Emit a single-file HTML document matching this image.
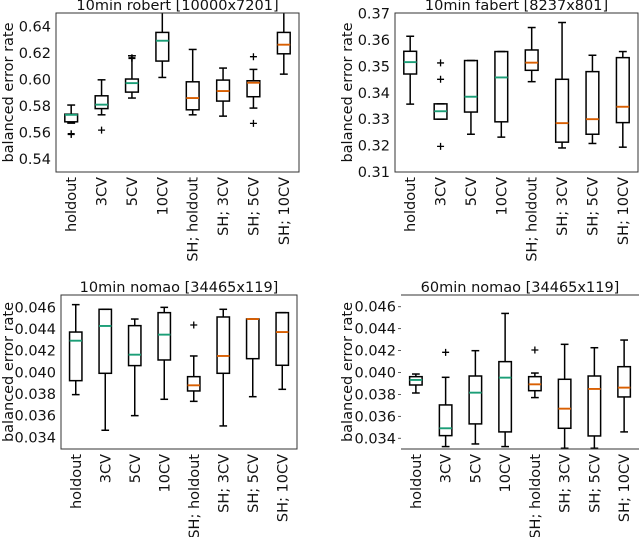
<!DOCTYPE html>
<html><head><meta charset="utf-8"><style>
body{margin:0;background:#fff;}
svg{display:block;font-family:"DejaVu Sans","Liberation Sans",sans-serif;}
</style></head><body>
<svg id="chart" width="640" height="537" viewBox="0 0 640 537"></svg>
<script>
const categories=["holdout","3CV","5CV","10CV","SH; holdout","SH; 3CV","SH; 5CV","SH; 10CV"];
const titles=["10min robert [10000x7201]","10min fabert [8237x801]","10min nomao [34465x119]","60min nomao [34465x119]"];
// each box: [lowWhisker, Q1, median, Q3, highWhisker]
const robertBoxes=[[0.567,0.568,0.5733,0.5738,0.5807],[0.5733,0.578,0.581,0.5877,0.5998],[0.586,0.5905,0.5973,0.6004,0.618],[0.6016,0.614,0.6294,0.6357,0.652],[0.5733,0.5771,0.586,0.5983,0.6228],[0.5723,0.5837,0.5913,0.5996,0.6087],[0.5784,0.587,0.5976,0.5991,0.6077],[0.6041,0.6195,0.6264,0.6357,0.652]];
const robertOutliers=[[0.5584,0.559],[0.5617],[0.616,0.6165],[],[],[],[0.6173,0.5668],[]];
const fabertBoxes=[[0.3357,0.3471,0.3516,0.3557,0.3614],[0.33,0.33,0.333,0.3358,0.3358],[0.3243,0.3327,0.3385,0.3522,0.3522],[0.3232,0.329,0.3458,0.3556,0.3556],[0.3442,0.3485,0.3514,0.3562,0.3647],[0.3191,0.3213,0.3285,0.3451,0.3666],[0.3208,0.3243,0.33,0.348,0.3542],[0.3194,0.3287,0.3347,0.3533,0.3556]];
const fabertOutliers=[[],[0.3513,0.3451,0.3197],[],[],[],[],[],[]];
const nomao10Boxes=[[0.03794,0.03923,0.04292,0.04372,0.04625],[0.03465,0.03991,0.04428,0.04582,0.04582],[0.036,0.04062,0.04163,0.04431,0.04492],[0.03751,0.04114,0.04348,0.04551,0.046],[0.03732,0.03828,0.0388,0.0396,0.04151],[0.03505,0.03991,0.04151,0.04511,0.04582],[0.03775,0.04126,0.04492,0.04492,0.04492],[0.03843,0.04065,0.04372,0.04551,0.04551]];
const nomao10Outliers=[[],[],[],[],[0.04437],[],[],[]];
const nomao60Boxes=[[0.03813,0.03886,0.03932,0.03962,0.03986],[0.03324,0.03424,0.03491,0.03704,0.03956],[0.03348,0.03531,0.03816,0.03968,0.04199],[0.03324,0.03458,0.03953,0.04099,0.04539],[0.03771,0.03834,0.03892,0.03962,0.03995],[0.03309,0.03491,0.0367,0.03938,0.04257],[0.03309,0.03421,0.0385,0.03968,0.04226],[0.03458,0.03777,0.03862,0.04053,0.04296]];
const nomao60Outliers=[[],[0.04184],[],[],[0.04205],[],[],[]];
const robertTicks=[0.54,0.56,0.58,0.60,0.62,0.64];
const fabertTicks=[0.31,0.32,0.33,0.34,0.35,0.36,0.37];
const nomaoTicks=[0.034,0.036,0.038,0.040,0.042,0.044,0.046];

const NS="http://www.w3.org/2000/svg";
const svg=document.getElementById('chart');
const FS=14.5;
function mk(tag,attrs,parent){const e=document.createElementNS(NS,tag);for(const k in attrs)e.setAttribute(k,attrs[k]);(parent||svg).appendChild(e);return e;}

function panel(cfg){
  const g=mk('g',{});
  
  
  const {x0,x1,y0,y1,ymin,ymax}=cfg;
  const yS=v=>y1-(v-ymin)/(ymax-ymin)*(y1-y0);
  const bw=(x1-x0)/8;
  const xS=i=>x0+bw*(i+0.5);
  const clip='clip-'+cfg.name;
  const cp=mk('clipPath',{id:clip},g);mk('rect',{x:x0,y:y0,width:x1-x0,height:y1-y0},cp);
  const t=mk('text',{x:(x0+x1)/2,y:y0-3,'text-anchor':'middle','font-size':FS,fill:'#111'},g);
  t.textContent=cfg.title;
  
  
  const yl=mk('text',{transform:`translate(${cfg.ylabX},${(y0+y1)/2}) rotate(-90)`,'text-anchor':'middle','font-size':FS,fill:'#111'},g);
  yl.textContent='balanced error rate';
  
  
  cfg.ticks.forEach(v=>{
    const y=yS(v);
    const tl=mk('text',{x:x0-5,y:y+5,'text-anchor':'end','font-size':FS,fill:'#111'},g);
    tl.textContent=v.toFixed(cfg.dec);
    
    
    if(cfg.tickMarks) mk('line',{x1:x0-3,x2:x0,y1:y,y2:y,stroke:'#333','stroke-width':0.8},g);
  });
  const pg=mk('g',{'clip-path':`url(#${clip})`},g);
  cfg.boxes.forEach((b,i)=>{
    const cx=xS(i),hw=bw*0.21,cw=bw*0.13;
    const bg=mk('g',{},pg);
    
    
    const st={stroke:'#000','stroke-width':1.5,fill:'none'};
    mk('line',Object.assign({x1:cx,x2:cx,y1:yS(b[0]),y2:yS(b[1])},st),bg);
    mk('line',Object.assign({x1:cx,x2:cx,y1:yS(b[3]),y2:yS(b[4])},st),bg);
    mk('line',Object.assign({x1:cx-cw,x2:cx+cw,y1:yS(b[0]),y2:yS(b[0])},st),bg);
    mk('line',Object.assign({x1:cx-cw,x2:cx+cw,y1:yS(b[4]),y2:yS(b[4])},st),bg);
    mk('rect',Object.assign({x:cx-hw,y:yS(b[3]),width:2*hw,height:Math.max(0.5,yS(b[1])-yS(b[3]))},st),bg);
    mk('line',{x1:cx-hw,x2:cx+hw,y1:yS(b[2]),y2:yS(b[2]),stroke:i<4?'#1b9e77':'#d95f02','stroke-width':1.9},bg);
    cfg.outliers[i].forEach(o=>{
      const oy=yS(o);
      mk('path',{d:`M${cx-3.5},${oy}H${cx+3.5}M${cx},${oy-3.5}V${oy+3.5}`,stroke:'#000','stroke-width':1.3},bg);
    });
    const lab=mk('text',{transform:`translate(${cx+5},${y1+5}) rotate(-90)`,'text-anchor':'end','font-size':FS,fill:'#111'},g);
    lab.textContent=categories[i];
    
    
  });
  if(cfg.frame) mk('rect',{x:x0,y:y0,width:x1-x0,height:y1-y0,fill:'none',stroke:'#333','stroke-width':1},g);
  else {mk('line',{x1:x0,x2:x1,y1:y0,y2:y0,stroke:'#333','stroke-width':1},g);mk('line',{x1:x0,x2:x1,y1:y1,y2:y1,stroke:'#333','stroke-width':1},g);}
}
panel({name:'panel-robert',title:titles[0],x0:56,x1:299,y0:13,y1:172,ymin:0.530,ymax:0.6504,ticks:robertTicks,dec:2,boxes:robertBoxes,outliers:robertOutliers,ylabX:13,frame:true,tickMarks:false});
panel({name:'panel-fabert',title:titles[1],x0:395,x1:638,y0:13,y1:172,ymin:0.31,ymax:0.3702,ticks:fabertTicks,dec:2,boxes:fabertBoxes,outliers:fabertOutliers,ylabX:352,frame:true,tickMarks:false});
panel({name:'panel-nomao-10min',title:titles[2],x0:61,x1:297,y0:295,y1:449,ymin:0.03292,ymax:0.04714,ticks:nomaoTicks,dec:3,boxes:nomao10Boxes,outliers:nomao10Outliers,ylabX:13,frame:true,tickMarks:false});
panel({name:'panel-nomao-60min',title:titles[3],x0:401,x1:639,y0:295,y1:449,ymin:0.03302,ymax:0.04707,ticks:nomaoTicks,dec:3,boxes:nomao60Boxes,outliers:nomao60Outliers,ylabX:352,frame:false,tickMarks:true});
</script>
</body></html>
